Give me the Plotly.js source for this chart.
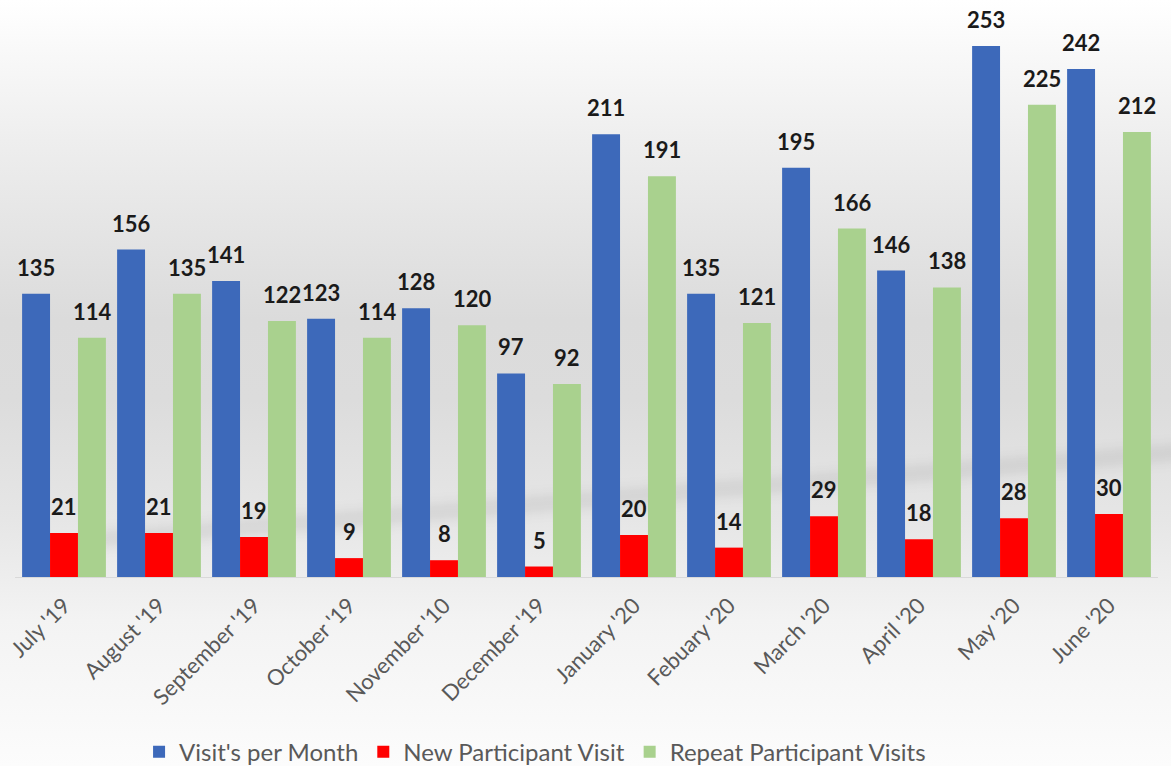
<!DOCTYPE html>
<html>
<head>
<meta charset="utf-8">
<script src="https://cdn.plot.ly/plotly-3.0.1.min.js"></script>
<style>
  html, body { margin: 0; padding: 0; }
  body {
    width: 1171px; height: 766px; overflow: hidden; position: relative;
    background: linear-gradient(to bottom, #ffffff 0px, #eeeeee 140px, #dbdbdb 320px, #dcdcdc 400px, #e6e6e6 520px, #f3f3f3 620px, #fcfcfc 766px);
  }
  #shadow {
    position: absolute; left: 90px; top: 534px; width: 1100px; height: 12px;
    background: rgba(0,0,0,0.10); filter: blur(7px);
    transform: rotate(-4.6deg); transform-origin: left center;
  }
  #chart { position: absolute; left: 0; top: 0; width: 1171px; height: 766px; }
</style>
</head>
<body>
<div id="shadow"></div>
<div id="chart"></div>
<script>
const categories = ["July '19", "August '19", "September '19", "October '19", "November '10", "December '19",
                    "January '20", "Febuary '20", "March '20", "April '20", "May '20", "June '20"];
const visitsPerMonth = [135, 156, 141, 123, 128, 97, 211, 135, 195, 146, 253, 242];
const newParticipant = [21, 21, 19, 9, 8, 5, 20, 14, 29, 18, 28, 30];
const repeatParticipant = [114, 135, 122, 114, 120, 92, 191, 121, 166, 138, 225, 212];
const seriesNames = ["Visit's per Month", "New Participant Visit", "Repeat Participant Visits"];
const seriesColors = ["#3d69ba", "#ff0000", "#a9d18e"];
const seriesData = [visitsPerMonth, newParticipant, repeatParticipant];

const traces = seriesData.map((vals, i) => ({
  type: 'bar',
  name: seriesNames[i],
  x: categories,
  y: vals,
  marker: { color: seriesColors[i] },
  hoverinfo: 'x+y'
}));

const offsets = [-28, 0, 28];
const annotations = [];
seriesData.forEach((vals, i) => {
  vals.forEach((v, j) => {
    annotations.push({
      x: categories[j], y: v, xref: 'x', yref: 'y',
      text: String(v), showarrow: false,
      xshift: offsets[i], yshift: 11, yanchor: 'bottom',
      font: { family: 'Lato, "Open Sans", sans-serif', size: 22, color: '#1a1a1a', weight: 'bold' }
    });
  });
});

const layout = {
  width: 1171, height: 766,
  margin: { l: 15, r: 13, t: 20, b: 189, autoexpand: false },
  paper_bgcolor: 'rgba(0,0,0,0)',
  plot_bgcolor: 'rgba(0,0,0,0)',
  barmode: 'group',
  bargap: 0.118,
  bargroupgap: 0,
  showlegend: true,
  legend: {
    orientation: 'h', x: 0.455, xanchor: 'center',
    yref: 'container', y: 0.018, yanchor: 'middle',
    font: { family: 'Lato, "Open Sans", sans-serif', size: 24, color: '#595959' },
    tracegroupgap: 0
  },
  xaxis: {
    type: 'category',
    automargin: false,
    tickangle: -45,
    ticklabelstandoff: 6,
    tickfont: { family: 'Lato, "Open Sans", sans-serif', size: 22, color: '#595959' },
    showline: true, linecolor: '#d9d9d9', linewidth: 1,
    ticks: '', showgrid: false, zeroline: false
  },
  yaxis: {
    range: [0, 265.4],
    visible: false, showgrid: false, zeroline: false
  },
  annotations: annotations
};

Plotly.newPlot('chart', traces, layout, { displayModeBar: false, staticPlot: true });
</script>
</body>
</html>
